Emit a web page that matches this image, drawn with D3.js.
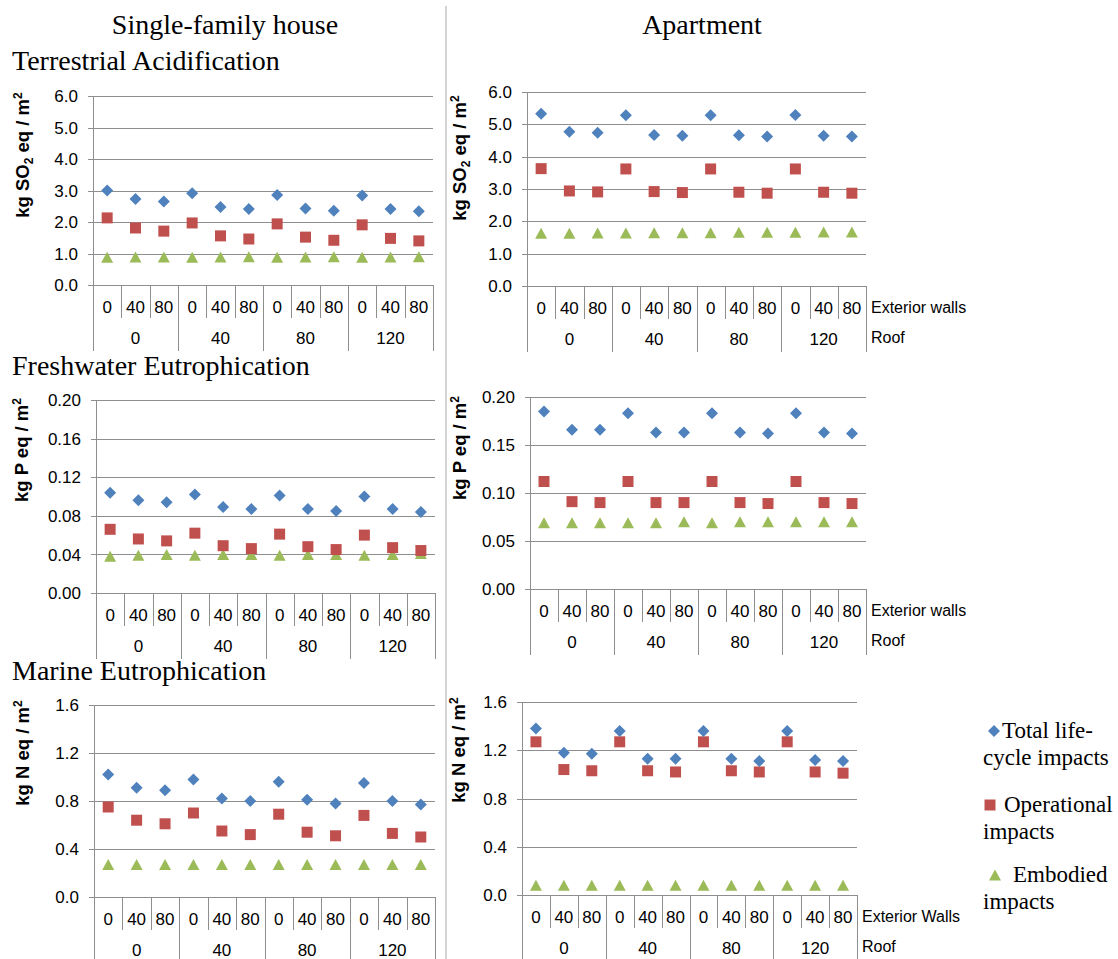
<!DOCTYPE html>
<html>
<head>
<meta charset="utf-8">
<script src="https://cdn.jsdelivr.net/npm/d3@7"></script>
<style>
  body { margin: 0; background: #fff; }
  svg { display: block; }
</style>
</head>
<body>
<script>
// categories: exterior wall insulation repeated inside each roof insulation group
var wallLevels = ['0', '40', '80']
var roofLevels = ['0', '40', '80', '120']

// Terrestrial acidification (kg SO2 eq / m2)
var acidHouseTotal = [3.00, 2.73, 2.65, 2.91, 2.48, 2.41, 2.86, 2.43, 2.36, 2.84, 2.41, 2.34]
var acidHouseOper = [2.13, 1.81, 1.71, 1.97, 1.56, 1.46, 1.94, 1.52, 1.42, 1.91, 1.48, 1.40]
var acidHouseEmb = [0.88, 0.89, 0.89, 0.88, 0.89, 0.90, 0.88, 0.89, 0.90, 0.88, 0.89, 0.90]
var acidAptTotal = [5.33, 4.77, 4.74, 5.28, 4.67, 4.65, 5.28, 4.66, 4.62, 5.29, 4.65, 4.62]
var acidAptOper = [3.63, 2.94, 2.91, 3.62, 2.92, 2.89, 3.62, 2.90, 2.87, 3.62, 2.90, 2.87]
var acidAptEmb = [1.63, 1.63, 1.64, 1.64, 1.65, 1.65, 1.65, 1.66, 1.66, 1.66, 1.67, 1.67]

// Freshwater eutrophication (kg P eq / m2)
var freshHouseTotal = [0.104, 0.096, 0.094, 0.102, 0.089, 0.087, 0.101, 0.087, 0.085, 0.100, 0.087, 0.084]
var freshHouseOper = [0.066, 0.056, 0.054, 0.062, 0.049, 0.046, 0.061, 0.048, 0.045, 0.060, 0.047, 0.044]
var freshHouseEmb = [0.038, 0.039, 0.040, 0.039, 0.040, 0.040, 0.039, 0.040, 0.040, 0.039, 0.040, 0.041]
var freshAptTotal = [0.185, 0.166, 0.166, 0.183, 0.163, 0.163, 0.183, 0.163, 0.162, 0.183, 0.163, 0.162]
var freshAptOper = [0.112, 0.091, 0.090, 0.112, 0.090, 0.090, 0.112, 0.090, 0.089, 0.112, 0.090, 0.089]
var freshAptEmb = [0.069, 0.069, 0.069, 0.069, 0.069, 0.070, 0.069, 0.070, 0.070, 0.070, 0.070, 0.070]

// Marine eutrophication (kg N eq / m2)
var marineHouseTotal = [1.02, 0.91, 0.89, 0.98, 0.82, 0.80, 0.96, 0.81, 0.78, 0.95, 0.80, 0.77]
var marineHouseOper = [0.75, 0.64, 0.61, 0.70, 0.55, 0.52, 0.69, 0.54, 0.51, 0.68, 0.53, 0.50]
var marineHouseEmb = [0.27, 0.27, 0.27, 0.27, 0.27, 0.27, 0.27, 0.27, 0.27, 0.27, 0.27, 0.27]
var marineAptTotal = [1.38, 1.18, 1.17, 1.36, 1.13, 1.13, 1.36, 1.13, 1.11, 1.36, 1.12, 1.11]
var marineAptOper = [1.27, 1.04, 1.03, 1.27, 1.03, 1.02, 1.27, 1.03, 1.02, 1.27, 1.02, 1.01]
var marineAptEmb = [0.08, 0.08, 0.08, 0.08, 0.08, 0.08, 0.08, 0.08, 0.08, 0.08, 0.08, 0.08]

var legendLines = [['Total life-', 'cycle impacts'], ['Operational', 'impacts'], ['Embodied', 'impacts']]
var colors = ['#4F81BD', '#C0504D', '#9BBB59']

var W = 1118
var H = 959
var gridColor = '#8e8e8e'
var sans = '"Liberation Sans", Arial, sans-serif'
var serif = '"Liberation Serif", "DejaVu Serif", serif'

var svg = d3.select('body').append('svg')
  .attr('width', W)
  .attr('height', H)

// column divider
svg.append('line')
  .attr('x1', 446).attr('x2', 446)
  .attr('y1', 6).attr('y2', H)
  .attr('stroke', '#d4d4d4')
  .attr('stroke-width', 2)

// serif text (headings and legend)
function serifText (txt, x, y, anchor, size) {
  svg.append('text')
    .attr('x', x).attr('y', y)
    .attr('text-anchor', anchor)
    .style('font-family', serif)
    .style('font-size', size + 'px')
    .attr('fill', '#000')
    .text(txt)
}
serifText('Single-family house', 225, 34, 'middle', 28)
serifText('Apartment', 702, 34, 'middle', 28)
serifText('Terrestrial Acidification', 12, 70, 'start', 28)
serifText('Freshwater Eutrophication', 12, 375, 'start', 28)
serifText('Marine Eutrophication', 12, 680, 'start', 28)

// marker shapes
function marker (kind, cx, cy) {
  if (kind === 0) {
    var r = 6
    return 'M' + cx + ',' + (cy - r) + 'L' + (cx + r) + ',' + cy + 'L' + cx + ',' + (cy + r) + 'L' + (cx - r) + ',' + cy + 'Z'
  }
  if (kind === 1) {
    var s = 5.5
    return 'M' + (cx - s) + ',' + (cy - s) + 'h' + (2 * s) + 'v' + (2 * s) + 'h' + (-2 * s) + 'Z'
  }
  var hw = 6
  var hh = 5.5
  return 'M' + cx + ',' + (cy - hh) + 'L' + (cx + hw) + ',' + (cy + hh) + 'L' + (cx - hw) + ',' + (cy + hh) + 'Z'
}

function drawPanel (cfg) {
  var g = svg.append('g')
    .style('font-family', sans)
    .attr('fill', '#000')

  var y = d3.scaleLinear().domain([0, cfg.max]).range([cfg.yBot, cfg.yTop])
  var cats = d3.range(roofLevels.length * wallLevels.length)
  var x = d3.scaleBand().domain(cats).range([cfg.x0, cfg.x1])
  var xg = d3.scaleBand().domain(roofLevels).range([cfg.x0, cfg.x1])

  var ticks = d3.range(0, cfg.max + cfg.step / 2, cfg.step)

  // gridlines
  g.selectAll('line.grid').data(ticks).join('line')
    .attr('class', 'grid')
    .attr('x1', cfg.x0 - 5).attr('x2', cfg.x1)
    .attr('y1', function (d) { return Math.round(y(d)) + 0.5 })
    .attr('y2', function (d) { return Math.round(y(d)) + 0.5 })
    .attr('stroke', gridColor)
    .attr('stroke-width', 1)

  // value axis
  g.append('line')
    .attr('x1', cfg.x0 + 0.5).attr('x2', cfg.x0 + 0.5)
    .attr('y1', cfg.yTop).attr('y2', cfg.yBot)
    .attr('stroke', gridColor)

  g.selectAll('text.tick-lbl').data(ticks).join('text')
    .attr('class', 'tick-lbl')
    .attr('x', cfg.x0 - 15)
    .attr('y', function (d) { return y(d) })
    .attr('dy', '0.36em')
    .attr('text-anchor', 'end')
    .style('font-size', '17px')
    .text(d3.format(cfg.fmt))

  // axis title with sub/superscripts
  var t = g.append('text')
    .style('font-size', '18.5px')
    .style('font-weight', 'bold')
    .attr('text-anchor', 'middle')
    .attr('transform', 'translate(' + (cfg.titleX + 7) + ',' + cfg.titleY + ') rotate(-90)')
  t.append('tspan').text('kg ' + cfg.unit)
  if (cfg.sub) {
    t.append('tspan').style('font-size', '12px').attr('dy', 4).text(cfg.sub)
    t.append('tspan').attr('dy', -4).text(' eq / m')
  } else {
    t.append('tspan').text(' eq / m')
  }
  t.append('tspan').style('font-size', '12px').attr('dy', -7).text('2')

  // category dividers
  var small = cats.slice(1).filter(function (i) { return i % wallLevels.length !== 0 })
  g.selectAll('line.sdiv').data(small).join('line')
    .attr('class', 'sdiv')
    .attr('x1', function (i) { return Math.round(x(i)) + 0.5 })
    .attr('x2', function (i) { return Math.round(x(i)) + 0.5 })
    .attr('y1', cfg.yBot).attr('y2', cfg.yBot + 33)
    .attr('stroke', gridColor)

  var bigEdges = roofLevels.map(function (r) { return xg(r) }).concat([cfg.x1])
  g.selectAll('line.bdiv').data(bigEdges).join('line')
    .attr('class', 'bdiv')
    .attr('x1', function (v) { return Math.round(v) + 0.5 })
    .attr('x2', function (v) { return Math.round(v) + 0.5 })
    .attr('y1', cfg.yBot).attr('y2', cfg.yBot + 66)
    .attr('stroke', gridColor)

  g.selectAll('text.cat-lbl').data(cats).join('text')
    .attr('class', 'cat-lbl')
    .attr('x', function (i) { return x(i) + x.bandwidth() / 2 })
    .attr('y', cfg.yBot + 22)
    .attr('dy', '0.36em')
    .attr('text-anchor', 'middle')
    .style('font-size', '17px')
    .text(function (i) { return wallLevels[i % wallLevels.length] })

  g.selectAll('text.grp-lbl').data(roofLevels).join('text')
    .attr('class', 'grp-lbl')
    .attr('x', function (r) { return xg(r) + xg.bandwidth() / 2 })
    .attr('y', cfg.yBot + 53)
    .attr('dy', '0.36em')
    .attr('text-anchor', 'middle')
    .style('font-size', '17px')
    .text(function (r) { return r })

  if (cfg.wallLabel) {
    g.append('text')
      .attr('x', cfg.x1 + 5).attr('y', cfg.yBot + 21).attr('dy', '0.36em')
      .style('font-size', '16px').text(cfg.wallLabel)
    g.append('text')
      .attr('x', cfg.x1 + 5).attr('y', cfg.yBot + 51).attr('dy', '0.36em')
      .style('font-size', '16px').text('Roof')
  }

  // markers, embodied drawn first so the others sit on top
  var series = [cfg.total, cfg.oper, cfg.emb]
  ;[2, 1, 0].forEach(function (k) {
    g.selectAll('path.s' + k).data(series[k]).join('path')
      .attr('class', 's' + k)
      .attr('d', function (v, i) { return marker(k, x(i) + x.bandwidth() / 2, y(v)) })
      .attr('fill', colors[k])
  })
}

var panels = [
  { x0: 93, x1: 433, yTop: 96, yBot: 285, max: 6, step: 1, fmt: '.1f', unit: 'SO', sub: '2', titleX: 22, titleY: 155,
    total: acidHouseTotal, oper: acidHouseOper, emb: acidHouseEmb },
  { x0: 527, x1: 866, yTop: 92, yBot: 286, max: 6, step: 1, fmt: '.1f', unit: 'SO', sub: '2', titleX: 459, titleY: 158,
    total: acidAptTotal, oper: acidAptOper, emb: acidAptEmb, wallLabel: 'Exterior walls' },
  { x0: 96, x1: 435, yTop: 400, yBot: 593, max: 0.2, step: 0.04, fmt: '.2f', unit: 'P', titleX: 21, titleY: 450,
    total: freshHouseTotal, oper: freshHouseOper, emb: freshHouseEmb },
  { x0: 530, x1: 866, yTop: 397, yBot: 589, max: 0.2, step: 0.05, fmt: '.2f', unit: 'P', titleX: 459, titleY: 448,
    total: freshAptTotal, oper: freshAptOper, emb: freshAptEmb, wallLabel: 'Exterior walls' },
  { x0: 94, x1: 435, yTop: 705, yBot: 897, max: 1.6, step: 0.4, fmt: '.1f', unit: 'N', titleX: 22, titleY: 753,
    total: marineHouseTotal, oper: marineHouseOper, emb: marineHouseEmb },
  { x0: 522, x1: 857, yTop: 702, yBot: 895, max: 1.6, step: 0.4, fmt: '.1f', unit: 'N', titleX: 458, titleY: 750,
    total: marineAptTotal, oper: marineAptOper, emb: marineAptEmb, wallLabel: 'Exterior Walls' }
]

panels.forEach(drawPanel)

// legend
var legendPos = [
  { y: 738, mx: 994, tx: 1002 },
  { y: 812, mx: 990, tx: 1004 },
  { y: 882, mx: 995, tx: 1013 }
]
legendPos.forEach(function (p, k) {
  svg.append('path')
    .attr('d', marker(k, p.mx, p.y - 7))
    .attr('fill', colors[k])
  serifText(legendLines[k][0], p.tx, p.y, 'start', 23)
  serifText(legendLines[k][1], 983, p.y + 27, 'start', 23)
})
</script>
</body>
</html>
